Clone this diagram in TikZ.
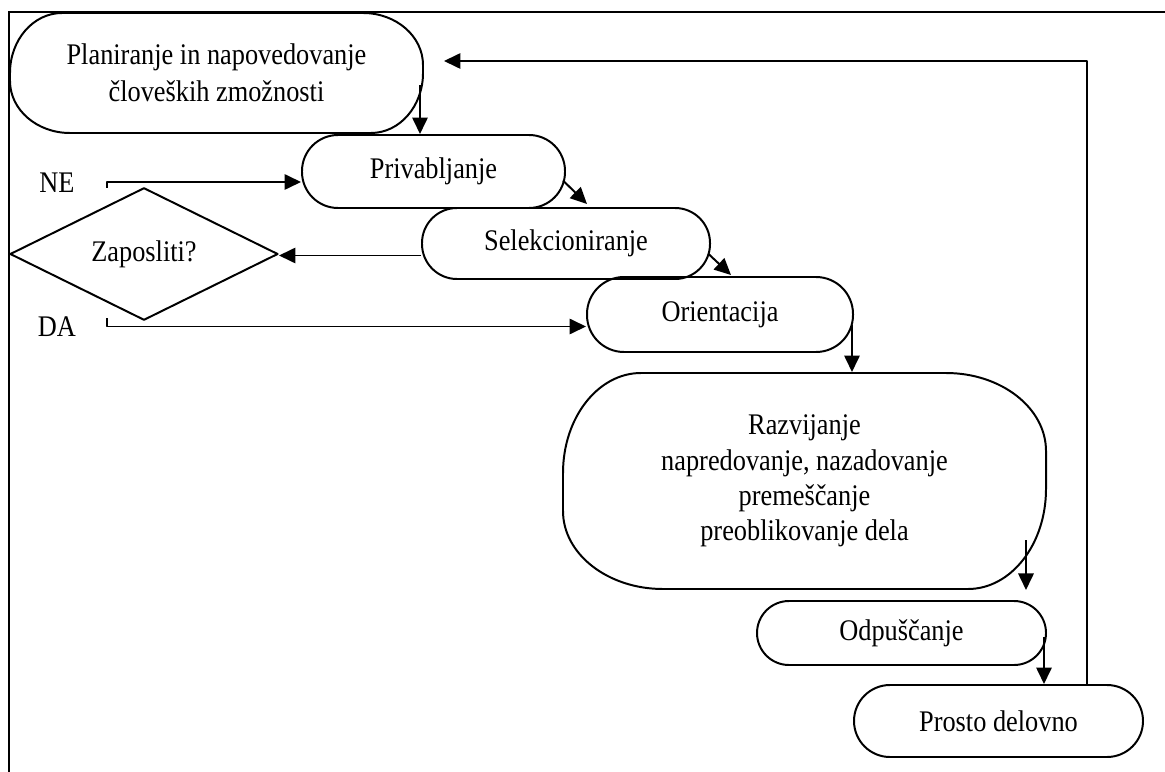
\documentclass[tikz,border=0pt]{standalone}
\usepackage{fontspec}
\setmainfont{Liberation Serif}[FakeStretch=0.88]
\usetikzlibrary{arrows.meta,calc,shapes.geometric}

\newcommand{\pxu}{0.4545pt}

\makeatletter
\tikzset{elipticni koti/.code 2 args={\tikz@addoption{\pgfsetcornersarced{\pgfpoint{#1}{#2}}}}}
\makeatother

\tikzset{
	korak/.style={draw, line width=0.9pt, rectangle, inner sep=0pt, align=center,
		font=\fontsize{13.6}{16.8}\selectfont},
	odlocitev/.style={draw, line width=0.9pt, diamond, inner sep=0pt, align=center,
		font=\fontsize{13.6}{16}\selectfont},
	oznaka/.style={font=\fontsize{13.6}{16}\selectfont},
	puscica/.style={-{Triangle[length=7.5pt,width=7pt]}, line width=0.9pt},
	okvir/.style={line width=1pt},
}

\begin{document}
\begin{tikzpicture}[x=0.4545pt, y=-0.4545pt, line join=round]
	\useasboundingbox (0,0) rectangle (1165,772);
	
	% frame
	\draw[okvir] (8,12) -- (1165,12);
	\draw[okvir] (9,12) -- (9,772);
	
	% steps
	\node[korak, minimum width=413*\pxu, minimum height=120*\pxu, elipticni koti={52*\pxu}{60*\pxu}] (plan) at (216.5,73)
		{Planiranje in napovedovanje\\človeških zmožnosti};
	\node[korak, minimum width=263*\pxu, minimum height=73*\pxu, rounded corners=36*\pxu] (priv) at (433.5,171.5) {Privabljanje};
	\node[korak, minimum width=288*\pxu, minimum height=71*\pxu, rounded corners=35*\pxu] (sel) at (566,243.5) {Selekcioniranje};
	\node[korak, minimum width=266*\pxu, minimum height=75*\pxu, rounded corners=37*\pxu] (ori) at (720,314.5) {Orientacija};
	\node[korak, minimum width=483*\pxu, minimum height=216*\pxu, elipticni koti={78*\pxu}{100*\pxu},
		font=\fontsize{13.6}{16}\selectfont] (razv) at (804.5,481)
		{Razvijanje\\napredovanje, nazadovanje\\premeščanje\\preoblikovanje dela};
	\node[korak, minimum width=289*\pxu, minimum height=64*\pxu, rounded corners=32*\pxu] (odp) at (901.5,633) {Odpuščanje};
	\node[korak, minimum width=289*\pxu, minimum height=72*\pxu, rounded corners=36*\pxu] (prosto) at (998.5,721) {Prosto delovno};
	
	% decision
	\node[odlocitev, minimum width=268*\pxu, minimum height=100*\pxu] (dec) at (144,254) {Zaposliti?};
	\node[oznaka] (ne-lbl) at (57,183) {NE};
	\node[oznaka] (da-lbl) at (57,327) {DA};
	\coordinate (ne) at ($(dec.north)+(-37,1)$);
	\coordinate (da) at ($(dec.south)+(-37,-3)$);
	
	% arrow starts
	\coordinate (plan-out) at ($(plan.east)+(-4,12)$);
	\coordinate (priv-out) at ($(priv.east)+(-3,9)$);
	\coordinate (sel-out) at ($(sel.east)+(-3,10)$);
	\coordinate (ori-out) at ($(ori.east)+(-2,10.5)$);
	\coordinate (razv-out) at ($(razv.east)+(-21,59)$);
	\coordinate (odp-out) at ($(odp.east)+(-3,4)$);
	\coordinate (sel-back) at ($(sel.west)+(0,12)$);
	\coordinate (prosto-back) at ($(prosto.north)+(88.5,0)$);
	
	% flow
	\draw[puscica] (plan-out) -- (plan-out |- priv.north);
	\draw[puscica] (priv-out) -- ($(priv.east |- sel.north)+(21,-3)$);
	\draw[puscica] (sel-out) -- ($(sel.east |- ori.north)+(20,-1)$);
	\draw[puscica] (ori-out) -- (ori-out |- razv.north);
	\draw[puscica] (razv-out) -- (razv-out |- razv.south);
	\draw[puscica] (odp-out) -- (odp-out |- prosto.north);
	
	% back to planning
	\draw[puscica] (prosto-back) |- ($(plan.east)+(20,-12)$);
	
	% decision branches
	\draw[puscica] (sel-back) -- (sel-back -| dec.east);
	\draw[puscica] (ne) |- ($(priv.west)+(0,10.5)$);
	\draw[puscica] (da) |- ($(ori.west)+(0,12)$);
	
\end{tikzpicture}
\end{document}
